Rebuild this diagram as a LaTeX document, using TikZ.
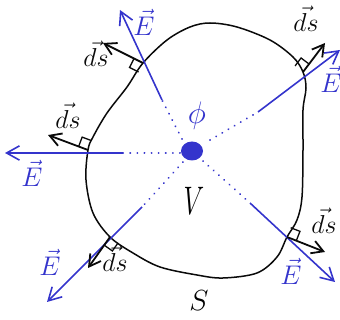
\documentclass[tikz,border=0pt]{standalone}
\usepackage{graphicx}
\usetikzlibrary{arrows.meta,calc,shapes.geometric}
\definecolor{fluxBlue}{RGB}{52,52,204}
\definecolor{fluxDark}{RGB}{10,10,10}
\newcommand{\fieldE}{\scalebox{1.3}{$\vec{E}$}}
\newcommand{\areads}{\scalebox{1.25}{$\vec{ds}$}}

\begin{document}
\begin{tikzpicture}[x=1pt,y=-1pt,
  % ── surface and vectors ──
  surf/.style={line width=1.5pt, fluxDark, line join=round},
  fline/.style={-{Straight Barb[length=4.5mm,width=5mm]}, line width=1.6pt, fluxBlue},
  fdots/.style={fluxBlue, line width=2pt, dash pattern=on 0.1pt off 7pt, line cap=round},
  dsvec/.style={-{Straight Barb[length=4mm,width=4.6mm]}, line width=1.8pt, fluxDark},
  rmark/.style={line width=1.3pt, fluxDark},
  % ── labels ──
  elab/.style={fluxBlue, font=\huge, inner sep=0pt},
  dslab/.style={fluxDark, font=\huge, inner sep=0pt},
  charge/.style={ellipse, fill=fluxBlue, minimum width=22pt, minimum height=19pt, inner sep=0pt},
]
\useasboundingbox (0,0) rectangle (340,320);

\def\sq{10pt}   % right-angle mark size

%% ─── 1. Closed surface S ────────────────────────────────────────
\coordinate (P1) at (143,63);    % crossing, upper left
\coordinate (P2) at (88,150);    % crossing, left
\coordinate (P3) at (110,237);   % crossing, lower left
\coordinate (P4) at (287,237);   % crossing, lower right
\coordinate (P5) at (303,72);    % crossing, upper right

\draw[surf] plot[smooth cycle, tension=0.55] coordinates {
  (210,23) (237,27) (270,40) (293,57) (P5) (306,88) (303,110) (303,150)
  (302,197) (297,220) (P4) (277,257) (257,273) (223,278) (197,275)
  (160,267) (133,253) (P3) (93,213) (86,180) (P2) (93,137) (107,113)
  (127,87) (P1) (167,40) (190,27)};

%% ─── 2. Enclosed charge ─────────────────────────────────────────
\node[charge] (q) at (192,151) {};
\node[fluxBlue, font=\huge] (phi) at (197,116) {\scalebox{1.5}{$\phi$}};
\node[font=\Huge] (V) at (194,201) {\scalebox{1.05}[1.6]{$V$}};
\node[font=\huge] (S) at (199,301) {\scalebox{1.4}{$S$}};

%% ─── 3. Field lines: dotted inside, solid outside ───────────────
% name/dot end/solid start/tip
\foreach \k/\dx/\dy/\sx/\sy/\tx/\ty in {
    1/182/139/162/100/120/10,
    2/180/153/123/153/5/153,
    3/183/162/142/207/47/302,
    4/203/161/250/203/335/282,
    5/210/140/258/112/340/50}{
  \coordinate (D\k) at (\dx,\dy);
  \coordinate (S\k) at (\sx,\sy);
  \coordinate (E\k) at (\tx,\ty);
  \draw[fdots] (D\k) -- (S\k);
  \draw[fline] (S\k) -- (E\k);
}

%% ─── 4. Area vectors dS with right-angle marks ──────────────────
% crossing/tip/turn
\foreach \k/\tx/\ty/\rot in {
    1/103/43/90,
    2/48/135/-90,
    3/88/268/90,
    4/325/252/90,
    5/325/43/90}{
  \coordinate (N\k) at (\tx,\ty);
  \draw[dsvec] (P\k) -- (N\k);
  \coordinate (A\k) at ($(P\k)!\sq!(N\k)$);
  \coordinate (B\k) at ($(P\k)!\sq!\rot:(N\k)$);
  \draw[rmark] (A\k) -- ($(A\k)+(B\k)-(P\k)$) -- (B\k);
}

%% ─── 5. Vector labels ───────────────────────────────────────────
\node[elab] (lE1) at (144,22)  {\fieldE};
\node[elab] (lE2) at (32,173)  {\fieldE};
\node[elab] (lE3) at (50,262)  {\fieldE};
\node[elab] (lE4) at (291,271) {\fieldE};
\node[elab] (lE5) at (331,79)  {\fieldE};

\node[dslab] (lds1) at (96,54)   {\areads};
\node[dslab] (lds2) at (68,116)  {\areads};
\node[dslab] (lds3) at (115,259) {\areads};
\node[dslab] (lds4) at (324,221) {\areads};
\node[dslab] (lds5) at (306,19)  {\areads};

\end{tikzpicture}
\end{document}
